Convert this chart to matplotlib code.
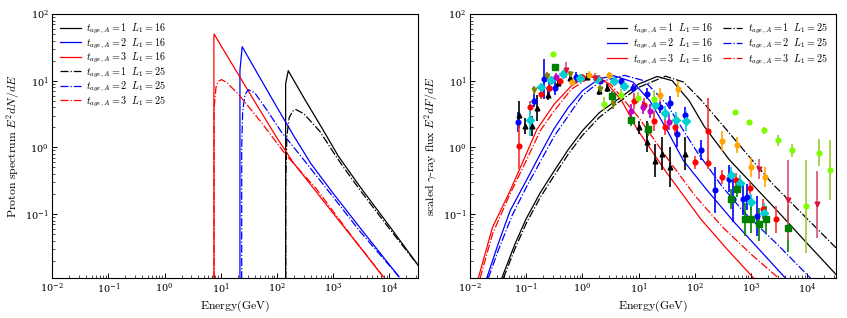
import numpy as np
import matplotlib
matplotlib.use("Agg")
import matplotlib.pyplot as plt

plt.rcParams['mathtext.fontset'] = 'cm'
plt.rcParams['font.family'] = 'serif'
plt.rcParams['font.serif'] = ['DejaVu Serif']

# ---- left panel: proton spectra (log10 E, log10 E^2dN/dE)
p_t1_L16_x = [2.153, 2.153, 2.20, 2.48, 2.8, 3.09, 3.477, 4.0, 4.513]
p_t1_L16_y = [-3.0, 0.954, 1.15, 0.74, 0.29, -0.13, -0.59, -1.18, -1.77]
p_t2_L16_x = [1.34, 1.34, 1.38, 1.699, 2.0, 2.3, 2.6, 3.0, 3.5, 4.17]
p_t2_L16_y = [-3.0, 1.155, 1.51, 1.04, 0.60, 0.17, -0.24, -0.69, -1.23, -1.94]
p_t3_L16_x = [0.877, 0.877, 0.881, 1.0, 1.5, 2.0, 2.3, 2.6, 3.0, 3.5, 3.89]
p_t3_L16_y = [-3.0, 1.65, 1.70, 1.53, 0.83, 0.14, -0.24, -0.56, -0.99, -1.52, -1.94]
p_t1_L25_x = [2.155, 2.155, 2.176, 2.217, 2.279, 2.336, 2.477, 2.76, 3.0, 3.176, 3.477, 4.0, 4.513]
p_t1_L25_y = [-3.0, -0.52, 0.176, 0.447, 0.544, 0.568, 0.505, 0.243, -0.07, -0.29, -0.64, -1.22, -1.77]
p_t2_L25_x = [1.371, 1.371, 1.389, 1.431, 1.487, 1.602, 1.813, 2.079, 2.477, 3.0, 3.477, 4.17]
p_t2_L25_y = [-3.0, 0.0, 0.544, 0.792, 0.866, 0.82, 0.568, 0.23, -0.187, -0.745, -1.26, -1.94]
p_t3_L25_x = [0.881, 0.881, 0.914, 0.954, 1.013, 1.114, 1.34, 1.699, 2.17, 2.699, 3.301, 3.89]
p_t3_L25_y = [-3.0, 0.60, 0.903, 0.991, 1.017, 0.968, 0.771, 0.398, -0.125, -0.62, -1.30, -1.94]

# ---- right panel: scaled gamma-ray spectra (log10 E, log10 E^2dF/dE)
g_t1_L16_x = [-1.434, -1.2, -1.0, -0.75, -0.5, -0.25, 0.0, 0.3, 0.68, 1.0, 1.33, 1.6, 1.9, 2.166, 2.61, 3.0, 3.5, 4.0, 4.53]
g_t1_L16_y = [-1.96, -1.45, -1.07, -0.68, -0.35, -0.03, 0.25, 0.52, 0.75, 0.95, 1.064, 1.0, 0.70, 0.318, -0.18, -0.53, -0.98, -1.44, -1.92]
g_t2_L16_x = [-1.702, -1.5, -1.286, -1.0, -0.75, -0.512, -0.25, 0.0, 0.3, 0.56, 0.9, 1.2, 1.48, 1.8, 2.227, 2.7, 3.2, 3.625]
g_t2_L16_y = [-1.96, -1.45, -0.95, -0.50, -0.10, 0.269, 0.60, 0.85, 1.03, 1.075, 0.98, 0.70, 0.30, -0.20, -0.65, -1.12, -1.58, -1.97]
g_t3_L16_x = [-1.852, -1.6, -1.286, -1.0, -0.81, -0.5, -0.2, 0.084, 0.4, 0.7, 0.977, 1.5, 2.107, 2.6, 3.06]
g_t3_L16_y = [-1.96, -1.20, -0.65, -0.10, 0.269, 0.65, 0.92, 1.075, 1.00, 0.70, 0.269, -0.38, -1.075, -1.55, -1.97]
g_t1_L25_x = [-1.405, -1.2, -1.0, -0.75, -0.5, -0.25, 0.0, 0.3, 0.68, 1.0, 1.48, 1.8, 2.107, 2.5, 3.0, 3.39, 4.0, 4.53]
g_t1_L25_y = [-1.96, -1.52, -1.14, -0.75, -0.42, -0.10, 0.18, 0.45, 0.70, 0.90, 1.068, 0.98, 0.716, 0.33, -0.17, -0.552, -1.07, -1.52]
g_t2_L25_x = [-1.673, -1.5, -1.25, -1.0, -0.5, 0.0, 0.3, 0.75, 1.1, 1.5, 2.05, 2.5, 2.88, 3.5, 4.07]
g_t2_L25_y = [-1.96, -1.55, -1.02, -0.60, 0.17, 0.78, 0.98, 1.08, 1.00, 0.65, -0.08, -0.60, -0.975, -1.48, -1.97]
g_t3_L25_x = [-1.82, -1.6, -1.3, -1.0, -0.75, -0.5, -0.2, 0.15, 0.5, 1.0, 1.5, 2.0, 2.5, 3.0, 3.505]
g_t3_L25_y = [-1.96, -1.30, -0.72, -0.20, 0.25, 0.55, 0.87, 1.06, 0.95, 0.45, -0.15, -0.72, -1.20, -1.60, -1.97]

# ---- observational points (E [GeV], scaled flux, half error in dex)
blue_E = [0.071, 0.135, 0.21, 0.25, 0.33, 0.77, 2.1, 4.8, 7.9, 14, 24, 36, 49, 67, 130, 230, 410, 480, 720, 860, 1270]
blue_F = [2.4, 5.0, 10.6, 7.8, 7.8, 11.2, 10, 9.8, 7.8, 6.4, 4.1, 4.7, 1.6, 3.1, 0.9, 0.23, 0.34, 0.17, 0.17, 0.18, 0.093]
blue_e = [0.15, 0.1, 0.3, 0.1, 0.1, 0.08, 0.05, 0.05, 0.06, 0.08, 0.1, 0.1, 0.2, 0.12, 0.15, 0.35, 0.2, 0.35, 0.25, 0.2, 0.3]

black_E = [0.076, 0.095, 0.126, 0.155, 0.24, 0.37, 0.6, 1.2, 2.0, 2.7, 10, 13.9, 13.9, 19.3, 26.6, 36.2, 66]
black_F = [3.1, 2.1, 2.1, 3.9, 6.2, 9.3, 11, 11.5, 7.0, 7.8, 2.0, 1.86, 1.2, 0.63, 0.81, 0.51, 0.81]
black_e = [0.2, 0.12, 0.15, 0.2, 0.08, 0.06, 0.05, 0.05, 0.06, 0.06, 0.1, 0.12, 0.15, 0.25, 0.25, 0.3, 0.25]

red_E = [0.075, 0.118, 0.185, 0.25, 0.4, 1.0, 2.0, 8.3, 12.4, 19, 30, 45, 100, 170, 170, 310, 540, 960, 1650, 2800]
red_F = [1.05, 4.0, 6.3, 7.8, 9.8, 11.5, 10.8, 4.9, 4.4, 2.5, 2.0, 2.0, 0.6, 0.58, 1.75, 0.36, 0.33, 0.25, 0.12, 0.083]
red_e = [0.35, 0.1, 0.08, 0.06, 0.05, 0.04, 0.05, 0.12, 0.1, 0.15, 0.12, 0.12, 0.1, 0.08, 0.5, 0.1, 0.1, 0.1, 0.15, 0.2]

cyan_E = [0.118, 0.18, 0.28, 0.45, 0.9, 1.8, 3.6, 5.5, 20, 30, 47, 70, 440, 640, 1020, 1700]
cyan_F = [2.6, 8.0, 10.4, 12.8, 11, 10.5, 9.8, 8.2, 4.4, 3.3, 2.6, 2.5, 0.38, 0.29, 0.15, 0.105]
cyan_e = [0.25, 0.06, 0.05, 0.05, 0.04, 0.04, 0.05, 0.05, 0.08, 0.1, 0.12, 0.15, 0.12, 0.12, 0.12, 0.15]

green_E = [0.32, 3.4, 7.2, 15, 440, 560, 770, 1020, 1400, 1860, 4600]
green_F = [15.8, 5.9, 2.6, 1.86, 0.17, 0.24, 0.083, 0.083, 0.07, 0.083, 0.061]
green_e = [0.05, 0.08, 0.1, 0.1, 0.15, 0.12, 0.25, 0.2, 0.25, 0.2, 0.35]

lime_E = [0.295, 2.4, 4.8, 9.7, 18.6, 525, 940, 1700, 3000, 5400, 9600, 16000, 26000]
lime_F = [25, 4.5, 6.2, 5.6, 5.4, 3.4, 2.4, 1.8, 1.27, 0.9, 0.13, 0.83, 0.46]
lime_e = [0.0, 0.1, 0.08, 0.08, 0.12, 0.0, 0.03, 0.05, 0.08, 0.1, 0.7, 0.2, 0.45]

olive_E = [0.14, 0.23, 0.6, 2.1, 3.5]
olive_F = [7.2, 11.9, 12.5, 7.5, 4.5]
olive_e = [0.06, 0.05, 0.05, 0.06, 0.08]

magenta_E = [0.34, 7.2, 12, 16, 35]
magenta_F = [11.2, 3.5, 4.0, 3.5, 2.4]
magenta_e = [0.06, 0.1, 0.1, 0.1, 0.12]

orange_E = [0.65, 1.3, 3.0, 24, 50, 310, 560, 1000, 1780]
orange_F = [9.7, 12.3, 12.0, 6.1, 7.5, 1.25, 1.1, 0.5, 0.36]
orange_e = [0.05, 0.05, 0.05, 0.1, 0.12, 0.15, 0.12, 0.15, 0.15]

crimson_E = [0.52, 1.7, 1400, 4600, 15000]
crimson_F = [14.6, 11.0, 0.47, 0.16, 0.14]
crimson_e = [0.12, 0.08, 0.15, 0.6, 0.5]

x_ticks = [1e-2, 1e-1, 1e0, 1e1, 1e2, 1e3, 1e4]
y_ticks = [1e-1, 1e0, 1e1, 1e2]

fig = plt.figure(figsize=(8.47, 3.18), dpi=100)
ax1 = fig.add_axes([0.0617, 0.1258, 0.4321, 0.830])
ax2 = fig.add_axes([0.5549, 0.1258, 0.4321, 0.830])

lab = [r'$t_{age,A}=1\ \ L_1{=}16$', r'$t_{age,A}=2\ \ L_1{=}16$', r'$t_{age,A}=3\ \ L_1{=}16$',
       r'$t_{age,A}=1\ \ L_1{=}25$', r'$t_{age,A}=2\ \ L_1{=}25$', r'$t_{age,A}=3\ \ L_1{=}25$']

def pw(a):
    return 10.0 ** np.array(a)

lw = 0.9
ax1.plot(pw(p_t1_L16_x), pw(p_t1_L16_y), color='black', lw=lw, label=lab[0])
ax1.plot(pw(p_t2_L16_x), pw(p_t2_L16_y), color='blue', lw=lw, label=lab[1])
ax1.plot(pw(p_t3_L16_x), pw(p_t3_L16_y), color='red', lw=lw, label=lab[2])
ax1.plot(pw(p_t1_L25_x), pw(p_t1_L25_y), color='black', ls='-.', lw=lw, label=lab[3])
ax1.plot(pw(p_t2_L25_x), pw(p_t2_L25_y), color='blue', ls='-.', lw=lw, label=lab[4])
ax1.plot(pw(p_t3_L25_x), pw(p_t3_L25_y), color='red', ls='-.', lw=lw, label=lab[5])

ax2.plot(pw(g_t1_L16_x), pw(g_t1_L16_y), color='black', lw=lw, label=lab[0])
ax2.plot(pw(g_t2_L16_x), pw(g_t2_L16_y), color='blue', lw=lw, label=lab[1])
ax2.plot(pw(g_t3_L16_x), pw(g_t3_L16_y), color='red', lw=lw, label=lab[2])
ax2.plot(pw(g_t1_L25_x), pw(g_t1_L25_y), color='black', ls='-.', lw=lw, label=lab[3])
ax2.plot(pw(g_t2_L25_x), pw(g_t2_L25_y), color='blue', ls='-.', lw=lw, label=lab[4])
ax2.plot(pw(g_t3_L25_x), pw(g_t3_L25_y), color='red', ls='-.', lw=lw, label=lab[5])

def pts(E, F, e, col, mk, ecol=None, ms=3.4):
    F = np.array(F)
    e = np.array(e)
    lo = F - F / 10 ** e
    hi = F * 10 ** e - F
    ax2.errorbar(E, F, yerr=[lo, hi], fmt=mk, color=col, ecolor=ecol or col,
                 ms=ms, elinewidth=1.2, capsize=0, zorder=3)

pts(blue_E, blue_F, blue_e, 'blue', 'o')
pts(black_E, black_F, black_e, 'black', '^')
pts(red_E, red_F, red_e, 'red', 'o', ecol='#ff3030')
pts(cyan_E, cyan_F, cyan_e, 'darkturquoise', 'D', ms=3.6)
pts(green_E, green_F, green_e, 'green', 's', ms=3.8)
pts(lime_E, lime_F, lime_e, 'lawngreen', 'o', ecol='yellowgreen')
pts(olive_E, olive_F, olive_e, 'olive', 'v')
pts(magenta_E, magenta_F, magenta_e, 'm', 'o')
pts(orange_E, orange_F, orange_e, 'orange', 'o')
pts(crimson_E, crimson_F, crimson_e, 'crimson', 'v', ecol='#e05070')

for ax in (ax1, ax2):
    ax.set_xscale('log')
    ax.set_yscale('log')
    ax.set_xticks(x_ticks)
    ax.set_yticks(y_ticks)
    ax.set_xlim(1e-2, 3.26e4)
    ax.set_ylim(1.1e-2, 1e2)
    ax.set_xlabel(r'$\mathrm{Energy(GeV)}$', fontsize=8.5, labelpad=2)
    ax.tick_params(which='both', direction='in')
    ax.tick_params(which='major', labelsize=7, length=3.5, width=0.7, pad=2.5)
    ax.tick_params(which='minor', length=2, width=0.5)
    for s in ax.spines.values():
        s.set_linewidth(0.8)

ax1.set_ylabel(r'$\mathrm{Proton\ spectrum}\ E^2dN/dE$', fontsize=8.5, labelpad=2)
ax2.set_ylabel(r'$\mathrm{scaled}\ \gamma\mathrm{\text{-}ray\ flux}\ E^2dF/dE$', fontsize=8.5, labelpad=2)

ax1.legend(loc='upper left', frameon=False, fontsize=7.3, handlelength=2.0, handletextpad=0.5,
           labelspacing=0.02, borderaxespad=0.4)
ax2.legend(loc='upper right', frameon=False, fontsize=7.3, ncol=2, handlelength=1.9,
           handletextpad=0.6, labelspacing=0.08, columnspacing=1.0, borderaxespad=0.4)

fig.savefig('out.png', dpi=100)
